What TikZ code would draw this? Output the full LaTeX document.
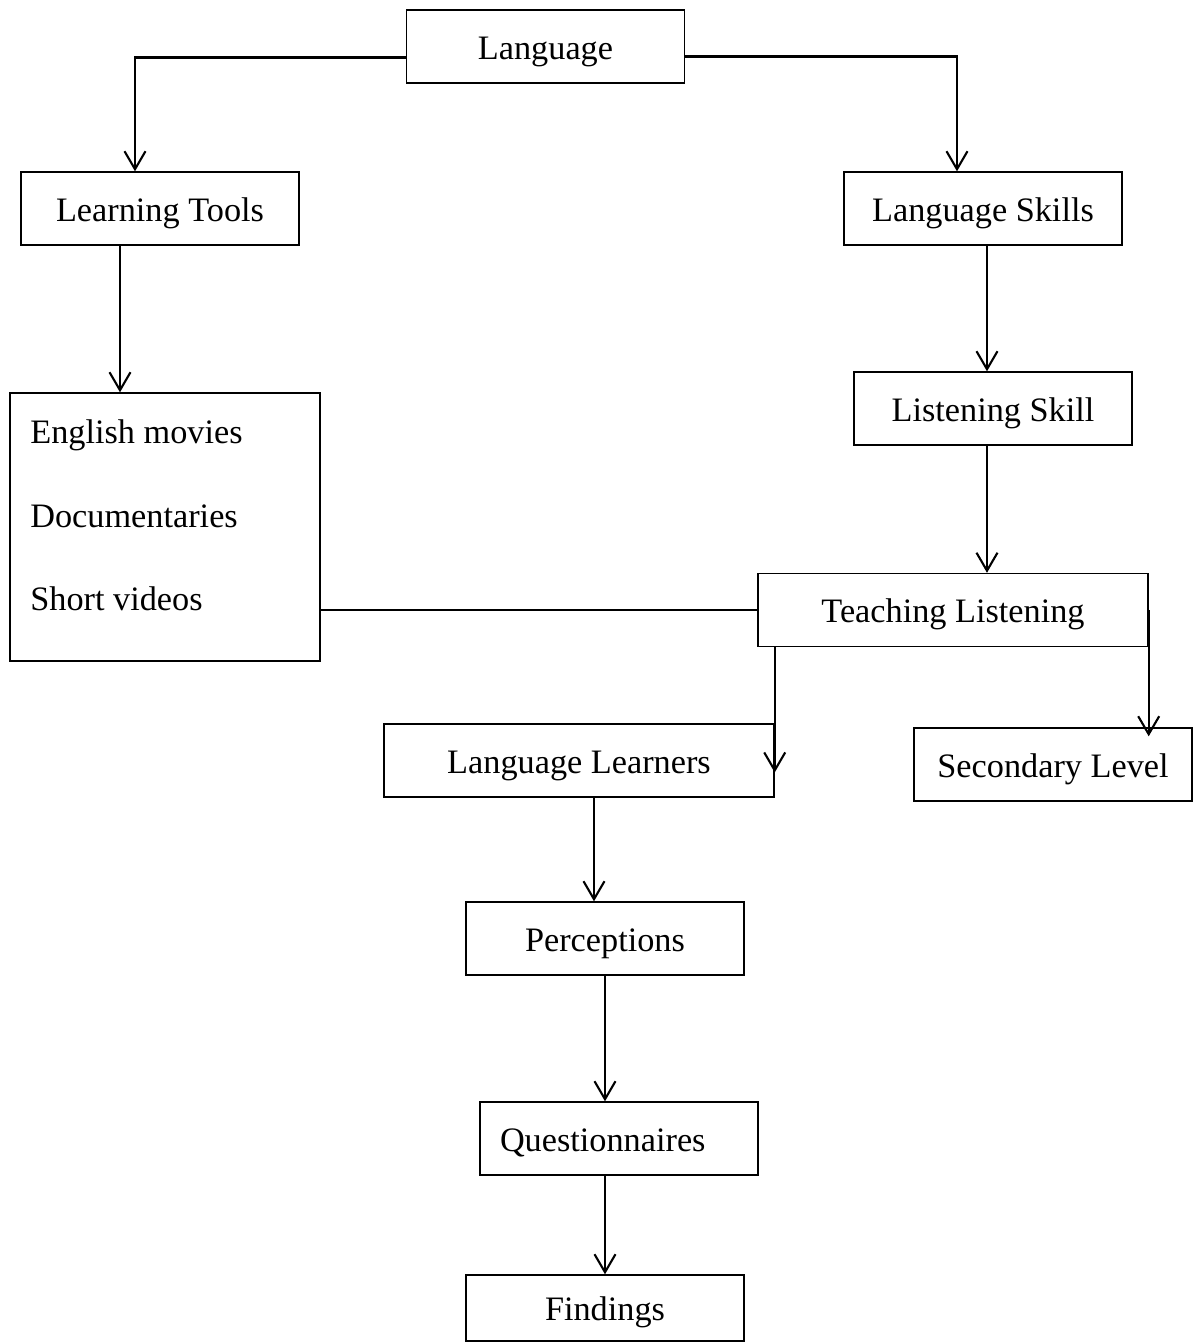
\documentclass[tikz,border=0pt]{standalone}
\usepackage{fontspec}
\setmainfont{Liberation Serif}
\usetikzlibrary{arrows.meta}
\usetikzlibrary{positioning}

\tikzset{
  box/.style={draw=black, line width=0.8pt, rectangle, minimum width=5.56cm, minimum height=1.46cm, inner sep=0pt, text height=0.62cm, text depth=0.12cm, font=\fontsize{19.5}{23}\selectfont},
  arr/.style={draw=black, line width=1.2pt, -{Straight Barb[length=3.6mm, width=4.2mm, line width=1.2pt]}},
  link/.style={draw=black, line width=1pt},
  itemtext/.style={anchor=west, inner sep=0pt, font=\fontsize{19.5}{23}\selectfont}
}

\begin{document}
\begin{tikzpicture}
\useasboundingbox (0,0) rectangle (23.9,-26.86);

% boxes
\node[box] (lang) at (10.91,-0.93) {Language};
\node[box] (tools) at (3.2,-4.17) {Learning Tools};
\node[box] (skills) at (19.66,-4.17) {Language Skills};
\node[box] (listen) at (19.86,-8.17) {Listening Skill};
\node[box, minimum width=6.2cm, minimum height=5.36cm] (media) at (3.3,-10.54) {};
\node[itemtext] (movies) at (0.6,-8.7) {English movies};
\node[itemtext] (docs) at (0.6,-10.33) {Documentaries};
\node[itemtext] (videos) at (0.6,-11.97) {Short videos};
\node[box, minimum width=7.8cm] (teach) at (19.06,-12.2) {Teaching Listening};
\node[box, minimum width=7.8cm] (learners) at (11.58,-15.21) {Language Learners};
\node[box] (second) at (21.06,-15.29) {Secondary Level};
\node[box] (percep) at (12.1,-18.77) {Perceptions};
\node[box, text width=4.76cm, align=left, inner xsep=0.4cm] (quest) at (12.38,-22.77) {Questionnaires};
\node[box, minimum height=1.32cm] (find) at (12.1,-26.16) {Findings};

% connectors
\draw[arr] ([yshift=-0.22cm]lang.west) -| ([xshift=-0.5cm]tools.north);
\draw[arr] ([yshift=-0.2cm]lang.east) -| ([xshift=-0.52cm]skills.north);
\draw[arr] ([xshift=-0.8cm]tools.south) -- ([xshift=-0.8cm]tools.south |- media.north);
\draw[arr] ([xshift=0.08cm]skills.south) -- ([xshift=0.08cm]skills.south |- listen.north);
\draw[arr] ([xshift=-0.12cm]listen.south) -- ([xshift=-0.12cm]listen.south |- teach.north);
\draw[link] (media.east |- teach.west) -- (teach.west);
\draw[arr] (teach.south -| learners.east) -- ([yshift=-0.24cm]learners.east);
\draw[arr] (teach.east) -- ([yshift=-0.18cm]teach.east |- second.north);
\draw[arr] ([xshift=0.3cm]learners.south) -- ([xshift=0.3cm]learners.south |- percep.north);
\draw[arr] (percep.south) -- (percep.south |- quest.north);
\draw[arr] (quest.south -| percep.south) -- (percep.south |- find.north);
\end{tikzpicture}
\end{document}
